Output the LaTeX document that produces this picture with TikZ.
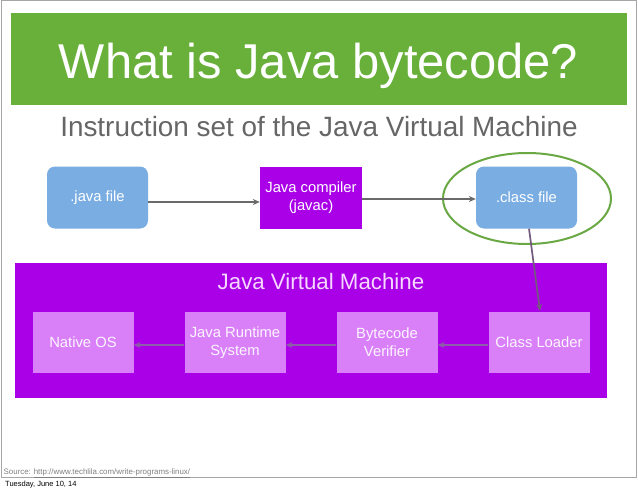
\documentclass[tikz,border=0pt]{standalone}
\usepackage{fontspec}
\setmainfont{Liberation Sans}
\usetikzlibrary{arrows.meta}
\definecolor{bannergreen}{HTML}{68B03A}
\definecolor{ringgreen}{HTML}{6AA843}
\definecolor{fileblue}{HTML}{7AADE2}
\definecolor{jvmpurple}{HTML}{A900E8}
\definecolor{lightpurple}{HTML}{D980F8}
\definecolor{subgray}{HTML}{666666}
\definecolor{arrowgray}{HTML}{6A6A6A}
\definecolor{innerarrow}{HTML}{8E5DAA}
\definecolor{jvmtitle}{HTML}{F6D8FF}
\tikzset{
  boxtext/.style={font=\fontsize{14.8}{18}\selectfont, text=white, align=center, inner sep=0pt},
  filebox/.style={boxtext, fill=fileblue, rounded corners=8pt, minimum width=101pt, minimum height=62pt},
  compbox/.style={boxtext, fill=jvmpurple, minimum width=102pt, minimum height=62pt},
  innerbox/.style={boxtext, fill=lightpurple, text=white!92!lightpurple, minimum width=101pt, minimum height=61pt},
  toparrow/.style={draw=arrowgray, line width=1.7pt, -{Stealth[length=7pt,width=6pt]}},
  inarrow/.style={draw=innerarrow, line width=1.7pt, -{Stealth[length=7pt,width=6pt]}}
}
\begin{document}
\begin{tikzpicture}[x=1pt,y=-1pt]
\useasboundingbox (0,0) rectangle (638,491);
\fill[white] (0,0) rectangle (638,491);
% slide frame
\draw[gray!70, line width=1.2pt] (1.5,0.8) rectangle (636.2,477.5);
% banner
\fill[bannergreen] (11,13) rectangle (627,105);
\node[font=\fontsize{48.9}{55}\selectfont, text=white, inner sep=0pt, anchor=base] (title) at (318.5,78) {What is Java bytecode?};
\node[font=\fontsize{27.9}{32}\selectfont, text=subgray, inner sep=0pt, anchor=base] (subtitle) at (319,136) {Instruction set of the Java Virtual Machine};
% top row
\node[filebox] (java) at (97.5,197.5) {.java file};
\node[compbox] (javac) at (311,197.5) {Java compiler\\(javac)};
\node[filebox] (class) at (526.5,197.5) {.class file};
\draw[ringgreen, line width=2pt] (527,198.5) ellipse [x radius=84, y radius=45.5];
\draw[toparrow] (java.east |- 0,202) -- (javac.west |- 0,202);
\draw[toparrow] (javac.east |- 0,199) -- (class.west |- 0,199);
% JVM
\fill[jvmpurple] (15,263) rectangle (607,398);
\node[font=\fontsize{22.3}{26}\selectfont, text=jvmtitle, inner sep=0pt] (jvm) at (321,282) {Java Virtual Machine};
\node[innerbox] (os) at (83,342.5) {Native OS};
\node[innerbox] (jrs) at (235,342.5) {Java Runtime\\System};
\node[innerbox] (bv) at (387,342.5) {Bytecode\\Verifier};
\node[innerbox] (cl) at (539,342.5) {Class Loader};
\draw[inarrow] (cl.west |- 0,345) -- (bv.east |- 0,345);
\draw[inarrow] (bv.west |- 0,345) -- (jrs.east |- 0,345);
\draw[inarrow] (jrs.west |- 0,345) -- (os.east |- 0,345);
\coordinate (clin) at (540,311);
\draw[line width=1.7pt, draw=arrowgray!85!jvmpurple, -{Stealth[length=7pt,width=6pt]}] (class.south -| 529,0) -- (clin);
% footer
\node[font=\fontsize{7.9}{9}\selectfont, text=gray, inner sep=0pt, anchor=base west] (src) at (3.5,474) {Source: \underline{http://www.techlila.com/write-programs-linux/}};
\node[font=\fontsize{7.5}{9}\selectfont, text=black, inner sep=0pt, anchor=base west] (date) at (5,486.5) {Tuesday, June 10, 14};
\end{tikzpicture}
\end{document}
